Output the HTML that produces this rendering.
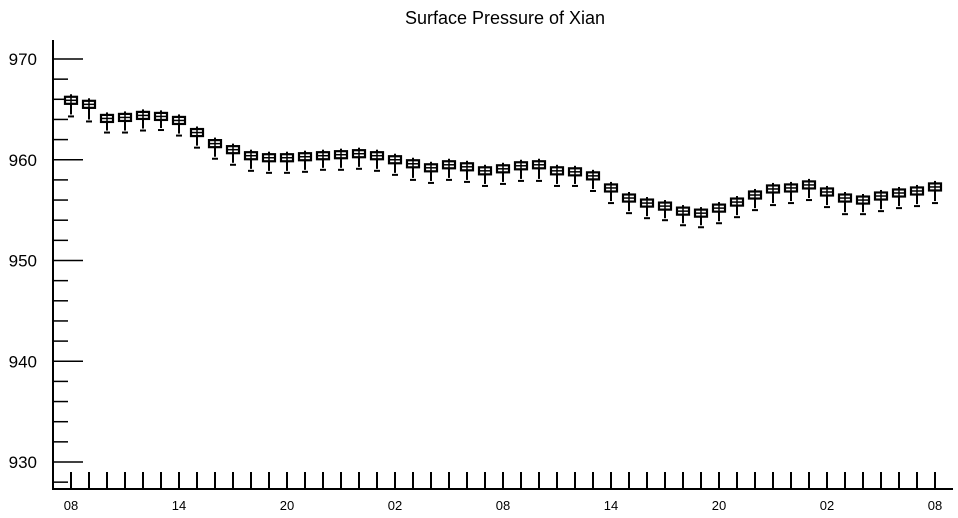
<!DOCTYPE html>
<html><head><meta charset="utf-8"><style>
body{margin:0;background:#fff;font-family:"Liberation Sans",sans-serif}
svg{display:block}
</style></head><body>
<svg id="c" width="958" height="518">
<text x="505" y="24" text-anchor="middle" font-size="18">Surface Pressure of Xian</text>
</svg>
<script>
const hourLabels=["08","14","20","02","08","14","20","02","08"];
const medians=[965.9,965.5,964.1,964.2,964.4,964.3,963.9,962.7,961.6,961.0,960.4,960.2,960.2,960.3,960.4,960.5,960.6,960.4,960.0,959.6,959.2,959.5,959.3,958.9,959.1,959.4,959.5,958.9,958.8,958.4,957.2,956.2,955.7,955.4,954.9,954.7,955.2,955.8,956.5,957.1,957.2,957.5,956.8,956.2,956.0,956.4,956.7,956.9,957.3];
const mins=[964.3,963.8,962.7,962.7,962.9,962.95,962.4,961.2,960.1,959.5,958.9,958.7,958.7,958.8,959.0,959.0,959.1,958.9,958.5,958.0,957.7,958.0,957.8,957.4,957.6,957.9,957.9,957.4,957.4,956.9,955.7,954.7,954.2,954.0,953.5,953.3,953.7,954.3,955.0,955.5,955.7,956.0,955.3,954.6,954.6,954.9,955.2,955.4,955.7];
const yTicks=[930,940,950,960,970];
const NS="http://www.w3.org/2000/svg";
const svg=document.getElementById('c');
const Y=v=>59+(970-v)*10.075;
const X=i=>71+i*18;
const L=53,B=489;
function el(t,a){const e=document.createElementNS(NS,t);for(const k in a)e.setAttribute(k,a[k]);svg.appendChild(e);return e;}
let ax=el('path',{d:`M${L},40V${B}H953`,stroke:'#000','stroke-width':2,fill:'none'});


for(let v=928;v<=970;v+=2){
  const major=v%10===0;
  const t=el('line',{x1:L,x2:L+(major?30:15),y1:Y(v),y2:Y(v),stroke:'#000','stroke-width':1.5});
  
  
}
yTicks.forEach(v=>{
  const t=el('text',{x:37,y:Y(v)+6,'text-anchor':'end','font-size':17});
  t.textContent=v;
  
  
});
for(let i=0;i<49;i++){
  const t=el('line',{x1:X(i),x2:X(i),y1:B,y2:B-17,stroke:'#000','stroke-width':2});
  
  
}
hourLabels.forEach((s,j)=>{
  const t=el('text',{x:X(j*6),y:510,'text-anchor':'middle','font-size':13});
  t.textContent=s;
  
  
});
medians.forEach((m,i)=>{
  const x=X(i),g=el('g',{});
  
  
  const mk=(t,a)=>{const e=document.createElementNS(NS,t);for(const k in a)e.setAttribute(k,a[k]);g.appendChild(e);return e;};
  const q1=m-0.35,q3=m+0.35,mx=m+0.6,mn=mins[i];
  mk('line',{x1:x,x2:x,y1:Y(mx),y2:Y(mn)-2,stroke:'#000','stroke-width':2});
  mk('line',{x1:x-3,x2:x+3,y1:Y(mn),y2:Y(mn),stroke:'#000','stroke-width':2});
  mk('rect',{x:x-6,y:Y(q3),width:12,height:Y(q1)-Y(q3),fill:'#fff',stroke:'#000','stroke-width':2.2});
  mk('line',{x1:x-6,x2:x+6,y1:Y(m),y2:Y(m),stroke:'#000','stroke-width':1.5});
  mk('line',{x1:x,x2:x,y1:Y(q3),y2:Y(q1),stroke:'#000','stroke-width':1.5});
});
</script>
</body></html>
